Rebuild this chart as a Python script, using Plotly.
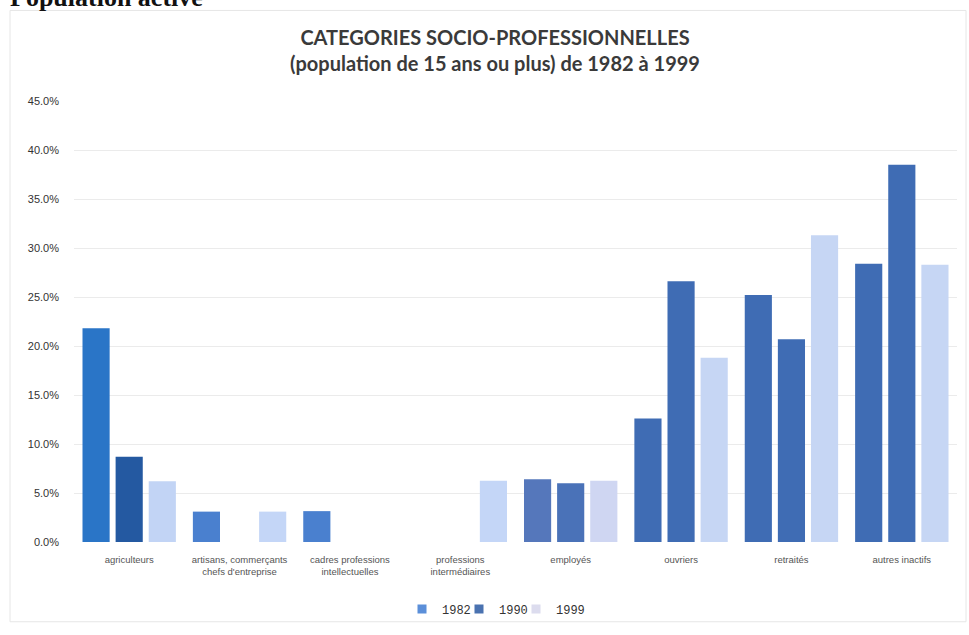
import plotly.graph_objects as go

categories = [
    "agriculteurs",
    "artisans, commerçants<br>chefs d'entreprise",
    "cadres professions<br>intellectuelles",
    "professions<br>intermédiaires",
    "employés",
    "ouvriers",
    "retraités",
    "autres inactifs",
]
years = ["1982", "1990", "1999"]
values_1982 = [21.8, 3.1, 3.15, 0.0, 6.4, 12.6, 25.2, 28.4]
values_1990 = [8.7, 0.0, 0.0, 0.0, 6.0, 26.6, 20.7, 38.5]
values_1999 = [6.2, 3.1, 0.0, 6.25, 6.25, 18.8, 31.3, 28.3]
y_ticks = [0, 5, 10, 15, 20, 25, 30, 35, 40, 45]

# styles (kept separate from the data)
colors_1982 = ["#2a75c7", "#4a80cf", "#4a80cf", "#4a80cf", "#5577bb", "#3f6cb4", "#3f6cb4", "#3f6cb4"]
colors_1990 = ["#2459a1", "#4a80cf", "#4a80cf", "#4a80cf", "#4a72b8", "#3f6cb4", "#3f6cb4", "#3f6cb4"]
colors_1999 = ["#c2d4f5", "#c4d6f7", "#c4d6f7", "#c4d6f7", "#cfd6f2", "#c6d6f4", "#c6d6f4", "#c6d6f4"]
legend_colors = ["#5b8fd9", "#4a72b0", "#dcdcee"]
legend_ids = ["legend", "legend2", "legend3"]
legend_left_px = [402, 459, 516]

W, H = 969, 635
ML, MR, MT, MB = 74, 12, 101, 86
PW, PH = W - ML - MR, H - MT - MB


def px_x(p):
    return (p - ML) / PW


def px_y(p):
    return (H - MB - p) / PH


fig = go.Figure()
for vals, cols, yr in zip([values_1982, values_1990, values_1999],
                          [colors_1982, colors_1990, colors_1999], years):
    fig.add_trace(go.Bar(x=categories, y=vals, name=yr, marker=dict(color=cols, line=dict(width=0)),
                         showlegend=False))
for yr, c, lg in zip(years, legend_colors, legend_ids):
    fig.add_trace(go.Scatter(x=[None], y=[None], mode="markers", name=yr, legend=lg,
                             marker=dict(symbol="square", size=9, color=c)))


def legend_style(left_px):
    return dict(orientation="h", yanchor="middle", y=px_y(617), xanchor="left", x=px_x(left_px),
                font=dict(family="Liberation Mono", size=12, color="#333333"),
                bgcolor="rgba(0,0,0,0)", itemwidth=30, tracegroupgap=0, itemclick=False)


legends = {lg: legend_style(p) for lg, p in zip(legend_ids, legend_left_px)}

fig.update_layout(
    width=W, height=H,
    margin=dict(l=ML, r=MR, t=MT, b=MB),
    paper_bgcolor="white", plot_bgcolor="white",
    barmode="group", bargap=0.1, bargroupgap=0.18,
    font=dict(family="Liberation Sans", color="#404040"),
    title=dict(
        text="CATEGORIES SOCIO-PROFESSIONNELLES<br>(population de 15 ans ou plus) de 1982 à 1999",
        x=495 / W, xanchor="center", xref="container",
        y=1 - 45 / H, yanchor="middle", yref="container",
        font=dict(family="Lato", size=20, color="#3a3a3a", weight="bold"),
    ),
    xaxis=dict(showgrid=False, showline=False, ticks="", ticklabelstandoff=10,
               tickfont=dict(size=9.5, color="#555555")),
    yaxis=dict(range=[0, 45], tickvals=y_ticks, ticktext=[f"{v:.1f}%" for v in y_ticks],
               showgrid=True, gridcolor="#ebebeb", gridwidth=1, zeroline=False,
               showline=False, ticks="", ticklabelstandoff=14,
               tickfont=dict(size=11, color="#333333")),
    shapes=[dict(type="rect", xref="paper", yref="paper",
                 x0=px_x(10), x1=px_x(966), y0=px_y(630), y1=px_y(9),
                 line=dict(color="#e6e6e6", width=1), fillcolor="rgba(0,0,0,0)", layer="below")],
    annotations=[dict(text="<b>Population active</b>", xref="paper", yref="paper",
                      x=px_x(8), y=px_y(13), xanchor="left", yanchor="bottom", showarrow=False,
                      font=dict(family="Liberation Serif", size=26, color="#111111"))],
    **legends,
)

fig.write_html("out.html")
